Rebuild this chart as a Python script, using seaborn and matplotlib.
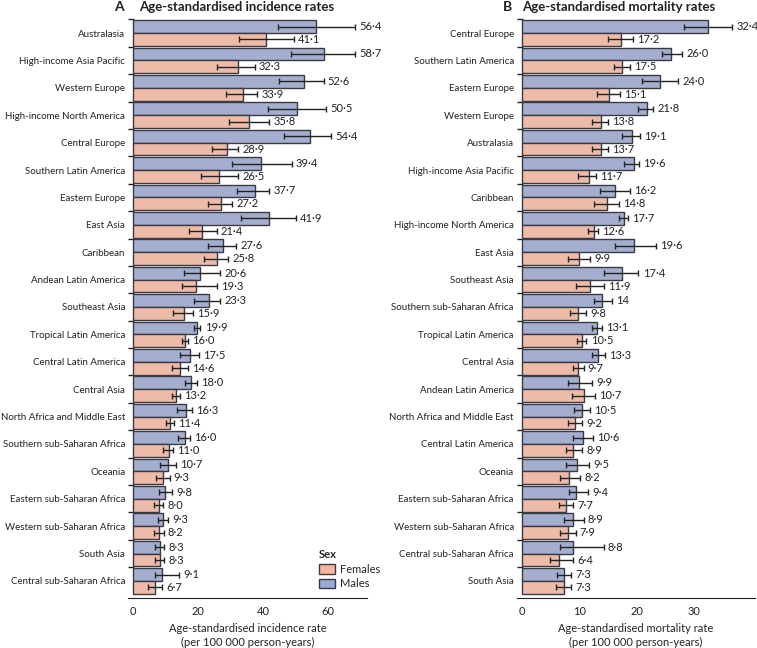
import pandas as pd
import matplotlib.pyplot as plt
import seaborn as sns
from matplotlib.patches import Patch

# Panel A: age-standardised incidence rates (labels as printed, middle dot decimals)
regions_a = ['Australasia', 'High-income Asia Pacific', 'Western Europe', 'High-income North America',
             'Central Europe', 'Southern Latin America', 'Eastern Europe', 'East Asia', 'Caribbean',
             'Andean Latin America', 'Southeast Asia', 'Tropical Latin America', 'Central Latin America',
             'Central Asia', 'North Africa and Middle East', 'Southern sub-Saharan Africa', 'Oceania',
             'Eastern sub-Saharan Africa', 'Western sub-Saharan Africa', 'South Asia',
             'Central sub-Saharan Africa']
males_a = ['56·4', '58·7', '52·6', '50·5', '54·4', '39·4', '37·7', '41·9', '27·6', '20·6', '23·3',
           '19·9', '17·5', '18·0', '16·3', '16·0', '10·7', '9·8', '9·3', '8·3', '9·1']
males_a_lo = [44.8, 48.7, 44.9, 41.6, 46.5, 30.6, 32.1, 33.4, 23.0, 15.8, 18.9,
              18.8, 14.5, 16.2, 13.7, 13.9, 8.4, 8.0, 7.6, 6.7, 6.8]
males_a_hi = [68.5, 68.5, 58.7, 59.4, 61.0, 48.9, 41.9, 50.1, 31.9, 26.8, 26.8,
              20.8, 20.3, 19.6, 18.3, 17.7, 13.2, 12.0, 10.9, 9.7, 14.2]
females_a = ['41·1', '32·3', '33·9', '35·8', '28·9', '26·5', '27·2', '21·4', '25·8', '19·3', '15·9',
             '16·0', '14·6', '13·2', '11·4', '11·0', '9·3', '8·0', '8·2', '8·3', '6·7']
females_a_lo = [32.7, 26.0, 28.7, 29.7, 24.5, 20.9, 23.2, 17.2, 21.8, 15.2, 12.4,
                15.0, 12.1, 12.0, 10.2, 9.3, 7.2, 6.4, 6.6, 6.8, 4.8]
females_a_hi = [49.5, 37.5, 38.2, 42.0, 32.4, 32.5, 30.6, 25.8, 29.4, 25.8, 18.5,
                16.9, 17.1, 14.4, 12.6, 12.4, 11.3, 9.3, 9.5, 9.7, 9.1]

# Panel B: age-standardised mortality rates
regions_b = ['Central Europe', 'Southern Latin America', 'Eastern Europe', 'Western Europe',
             'Australasia', 'High-income Asia Pacific', 'Caribbean', 'High-income North America',
             'East Asia', 'Southeast Asia', 'Southern sub-Saharan Africa', 'Tropical Latin America',
             'Central Asia', 'Andean Latin America', 'North Africa and Middle East',
             'Central Latin America', 'Oceania', 'Eastern sub-Saharan Africa',
             'Western sub-Saharan Africa', 'Central sub-Saharan Africa', 'South Asia']
males_b = ['32·4', '26·0', '24·0', '21·8', '19·1', '19·6', '16·2', '17·7', '19·6', '17·4', '14',
           '13·1', '13·3', '9·9', '10·5', '10·6', '9·5', '9·4', '8·9', '8·8', '7·3']
males_b_lo = [28.3, 24.4, 21.0, 20.3, 17.5, 17.7, 13.6, 16.9, 16.2, 14.2, 12.6,
              12.1, 12.1, 7.9, 9.1, 8.9, 7.6, 8.1, 7.3, 6.6, 6.0]
males_b_hi = [36.7, 27.9, 27.3, 22.9, 20.5, 20.4, 18.8, 18.4, 23.4, 20.3, 15.7,
              13.9, 14.5, 12.2, 11.8, 12.4, 11.7, 11.5, 10.7, 14.2, 8.5]
females_b = ['17·2', '17·5', '15·1', '13·8', '13·7', '11·7', '14·8', '12·6', '9·9', '11·9', '9·8',
             '10·5', '9·7', '10·7', '9·2', '8·9', '8·2', '7·7', '7·9', '6·4', '7·3']
females_b_lo = [15.0, 16.1, 13.1, 12.2, 12.1, 9.7, 12.6, 11.4, 8.0, 9.3, 8.4,
                9.5, 8.8, 8.6, 7.9, 7.6, 6.6, 6.4, 6.6, 4.8, 5.9]
females_b_hi = [19.3, 18.8, 17.1, 14.9, 14.9, 12.8, 16.9, 13.2, 11.8, 14.3, 11.1,
                11.2, 10.7, 12.7, 10.4, 10.5, 10.1, 8.9, 9.3, 8.9, 8.5]

sexes = ['Males', 'Females']
colors = {'Males': '#9daad6', 'Females': '#f9b69c'}
edge = '#3a3a44'
ink = '#222222'
fs = 7.5

sns.set_style('white')
plt.rcParams['font.family'] = ['Lato', 'DejaVu Sans']
plt.rcParams['font.size'] = fs


def to_num(labels):
    return [float(s.replace('·', '.')) for s in labels]


def panel(ax, regions, m, m_lo, m_hi, f, f_lo, f_hi, xmin, xmax, xticks, letter, title, title_x, xlabel):
    df = pd.DataFrame({
        'region': regions * 2,
        'sex': ['Males'] * len(regions) + ['Females'] * len(regions),
        'rate': to_num(m) + to_num(f),
    })
    sns.barplot(data=df, y='region', x='rate', hue='sex', hue_order=sexes, order=regions,
                palette=colors, width=0.94, edgecolor=edge, linewidth=1.0,
                errorbar=None, legend=False, ax=ax)

    ci = {'Males': (m, m_lo, m_hi), 'Females': (f, f_lo, f_hi)}
    for cont, sex in zip(ax.containers, sexes):
        labels, lo, hi = ci[sex]
        vals = to_num(labels)
        ys = [b.get_y() + b.get_height() / 2 for b in cont]
        err = [[max(v - l, 0) for v, l in zip(vals, lo)], [max(h - v, 0) for v, h in zip(vals, hi)]]
        ax.errorbar(vals, ys, xerr=err, fmt='none', ecolor=ink,
                    elinewidth=1.0, capsize=2, capthick=1.0)
        for y, h, lab in zip(ys, hi, labels):
            ax.annotate(lab, (h, y), xytext=(3, 0), textcoords='offset points',
                        va='center', ha='left', fontsize=fs + 0.5, color=ink)

    n = len(regions)
    ax.set_xlim(xmin, xmax)
    ax.set_ylim(n - 0.5 + 0.12, -0.5)
    ax.set_xticks(xticks)
    ax.set_yticks(range(n))
    ax.set_yticklabels(regions)
    ax.set_yticks([i + 0.5 for i in range(-1, n - 1)], minor=True)
    ax.tick_params(axis='y', which='major', length=0, pad=2, labelsize=7.0, labelcolor=ink)
    ax.tick_params(axis='y', which='minor', length=4, width=1, direction='in', left=True, color=ink)
    ax.tick_params(axis='x', length=3, width=0.8, pad=3, labelsize=fs + 0.5, color=ink, labelcolor=ink)
    ax.set_ylabel('')
    ax.set_xlabel(xlabel, fontsize=fs + 0.5, labelpad=4, color=ink, linespacing=1.35)
    sns.despine(ax=ax, left=True)
    ax.spines['bottom'].set_color(ink)
    ax.text(-0.017, 1.015, letter, transform=ax.transAxes, fontsize=10, fontweight='bold',
            ha='right', va='baseline', color=ink)
    ax.text(title_x, 1.015, title, transform=ax.transAxes, fontsize=9.5, fontweight='bold',
            ha='left', va='baseline', color=ink)


fig = plt.figure(figsize=(7.57, 6.48), dpi=100)
ax_a = fig.add_axes([0.169, 0.0772, 0.316, 0.893])
ax_b = fig.add_axes([0.6825, 0.0772, 0.315, 0.893])

panel(ax_a, regions_a, males_a, males_a_lo, males_a_hi, females_a, females_a_lo, females_a_hi,
      -1.5, 72.1, [0, 20, 40, 60], 'A', 'Age-standardised incidence rates', 0.046,
      'Age-standardised incidence rate\n(per 100 000 person-years)')
panel(ax_b, regions_b, males_b, males_b_lo, males_b_hi, females_b, females_b_lo, females_b_hi,
      -1.0, 40.7, [0, 10, 20, 30], 'B', 'Age-standardised mortality rates', 0.024,
      'Age-standardised mortality rate\n(per 100 000 person-years)')

handles = [Patch(facecolor=colors['Females'], edgecolor=edge, label='Females'),
           Patch(facecolor=colors['Males'], edgecolor=edge, label='Males')]
leg = ax_a.legend(handles=handles, title='Sex', loc='lower left', bbox_to_anchor=(0.76, 0.0),
                  frameon=False, fontsize=fs + 0.5, handlelength=1.5, handleheight=0.9,
                  handletextpad=0.4, labelspacing=0.3, alignment='left', borderpad=0.3)
leg.get_title().set_fontweight('bold')
leg.get_title().set_fontsize(fs + 0.5)

fig.savefig('out.png', dpi=100)
